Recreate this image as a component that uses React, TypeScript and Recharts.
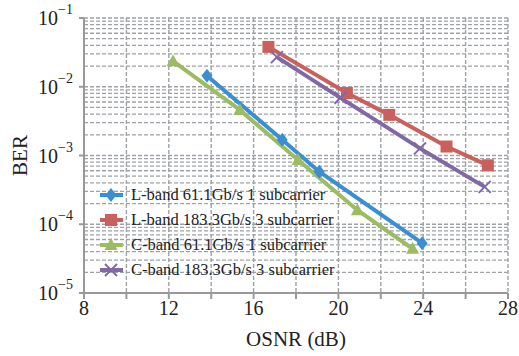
import React from "react"
import { CartesianGrid, Line, LineChart, ReferenceLine, XAxis, YAxis } from "recharts"

// OSNR (dB) / BER
const lBand611Osnr = [13.8, 17.35, 19.1, 23.95]
const lBand611Ber = [1.45e-2, 1.7e-3, 5.8e-4, 5.3e-5]

const lBand1833Osnr = [16.7, 20.4, 22.4, 25.1, 27.05]
const lBand1833Ber = [3.8e-2, 8.1e-3, 3.9e-3, 1.35e-3, 7.2e-4]

const cBand611Osnr = [12.2, 15.35, 18.1, 20.9, 23.5]
const cBand611Ber = [2.35e-2, 4.6e-3, 8.6e-4, 1.6e-4, 4.4e-5]

const cBand1833Osnr = [17.1, 20.1, 23.85, 26.9]
const cBand1833Ber = [2.7e-2, 6.9e-3, 1.27e-3, 3.5e-4]

const xTicks = [8, 10, 12, 14, 16, 18, 20, 22, 24, 26, 28]
const yTicks = [1e-5, 1e-4, 1e-3, 1e-2, 1e-1]
const minorTicks: number[] = []
for (let e = -5; e < -1; e++) {
  for (let m = 2; m <= 9; m++) minorTicks.push(m * Math.pow(10, e))
}

const zip = (xs: number[], ys: number[]) => xs.map((osnr, i) => ({ osnr, ber: ys[i] }))

const FONT = "Liberation Serif, serif"
const GRID = "#9ea2a6"

type Shape = "diamond" | "square" | "triangle" | "cross"

const Marker = ({ cx, cy, shape, color }: { cx: number; cy: number; shape: Shape; color: string }) => {
  if (cx == null || cy == null) return null
  if (shape === "diamond")
    return <polygon points={`${cx},${cy - 7} ${cx + 5.5},${cy} ${cx},${cy + 7} ${cx - 5.5},${cy}`} fill={color} />
  if (shape === "square") return <rect x={cx - 6} y={cy - 6} width={12} height={12} fill={color} />
  if (shape === "triangle")
    return <polygon points={`${cx},${cy - 7} ${cx + 6.5},${cy + 5} ${cx - 6.5},${cy + 5}`} fill={color} />
  return (
    <g stroke={color} strokeWidth={2}>
      <line x1={cx - 6} y1={cy - 6} x2={cx + 6} y2={cy + 6} />
      <line x1={cx - 6} y1={cy + 6} x2={cx + 6} y2={cy - 6} />
    </g>
  )
}

const SERIES = [
  { name: "L-band 61.1Gb/s 1 subcarrier", color: "#3a8fd3", shape: "diamond" as Shape, data: zip(lBand611Osnr, lBand611Ber) },
  { name: "L-band 183.3Gb/s 3 subcarrier", color: "#c9605b", shape: "square" as Shape, data: zip(lBand1833Osnr, lBand1833Ber) },
  { name: "C-band 61.1Gb/s 1 subcarrier", color: "#9dbb61", shape: "triangle" as Shape, data: zip(cBand611Osnr, cBand611Ber) },
  { name: "C-band 183.3Gb/s 3 subcarrier", color: "#8068a6", shape: "cross" as Shape, data: zip(cBand1833Osnr, cBand1833Ber) },
]

const YTick = ({ x, y, payload }: any) => {
  const exp = Math.round(Math.log10(payload.value))
  return (
    <text x={x - 4} y={y + 7} textAnchor="end" style={{ fontFamily: FONT }} fontSize={20} fill="#222">
      10
      <tspan dy={-11} fontSize={14}>
        {"\u2212" + Math.abs(exp)}
      </tspan>
    </text>
  )
}

const XTick = ({ x, y, payload }: any) => {
  if (payload.value % 4 !== 0) return null
  return (
    <text x={x} y={y + 14} textAnchor="middle" style={{ fontFamily: FONT }} fontSize={20} fill="#222">
      {payload.value}
    </text>
  )
}

const XLabel = ({ viewBox }: any) => (
  <text x={viewBox.x + viewBox.width / 2} y={viewBox.y + 53} textAnchor="middle" style={{ fontFamily: FONT }} fontSize={21} fill="#222">
    OSNR (dB)
  </text>
)

const YLabel = ({ viewBox }: any) => {
  const cx = 27
  const cy = viewBox.y + viewBox.height / 2
  return (
    <text x={cx} y={cy} transform={`rotate(-90 ${cx} ${cy})`} textAnchor="middle" style={{ fontFamily: FONT }} fontSize={21} fill="#222">
      BER
    </text>
  )
}

const LegendBox = () => (
  <div style={{ position: "absolute", left: 98, top: 182, fontFamily: FONT, fontSize: 16.5, color: "#222" }}>
    {SERIES.map((s) => (
      <div key={s.name} style={{ display: "flex", alignItems: "center", height: 25, whiteSpace: "nowrap" }}>
        <svg width={30} height={16} style={{ marginRight: 3 }}>
          <line x1={2} y1={8} x2={25} y2={8} stroke={s.color} strokeWidth={4} />
          <Marker cx={13} cy={8} shape={s.shape} color={s.color} />
        </svg>
        <span>{s.name}</span>
      </div>
    ))}
  </div>
)

export default function App() {
  return (
    <div style={{ position: "absolute", left: 0, top: 0, width: 519, height: 356, background: "#fff", fontFamily: FONT }}>
      <LineChart width={519} height={356} margin={{ top: 18, right: 11, bottom: 18, left: 10 }} style={{ fontFamily: FONT }}>
        <CartesianGrid horizontal={false} stroke={GRID} strokeDasharray="4 2" strokeWidth={1.4} />
        {minorTicks.concat(yTicks).map((v) => (
          <ReferenceLine key={v} y={v} stroke={GRID} strokeDasharray="4 2" strokeWidth={1.3} />
        ))}
        <XAxis
          dataKey="osnr"
          type="number"
          domain={[8, 28]}
          ticks={xTicks}
          tick={<XTick />}
          stroke="#999"
          strokeWidth={2}
          tickSize={6}
          height={45}
          allowDuplicatedCategory={false}
          label={<XLabel />}
        />
        <YAxis
          dataKey="ber"
          scale="log"
          type="number"
          domain={[1e-5, 1e-1]}
          ticks={yTicks}
          tick={<YTick />}
          stroke="#999"
          strokeWidth={2}
          tickSize={5}
          width={74}
          allowDataOverflow
          label={<YLabel />}
        />
        {SERIES.map((s) => (
          <Line
            key={s.name}
            data={s.data}
            dataKey="ber"
            name={s.name}
            stroke={s.color}
            strokeWidth={4}
            isAnimationActive={false}
            dot={(p: any) => <Marker key={p.index} cx={p.cx} cy={p.cy} shape={s.shape} color={s.color} />}
            activeDot={false}
          />
        ))}
      </LineChart>
      <LegendBox />
    </div>
  )
}
